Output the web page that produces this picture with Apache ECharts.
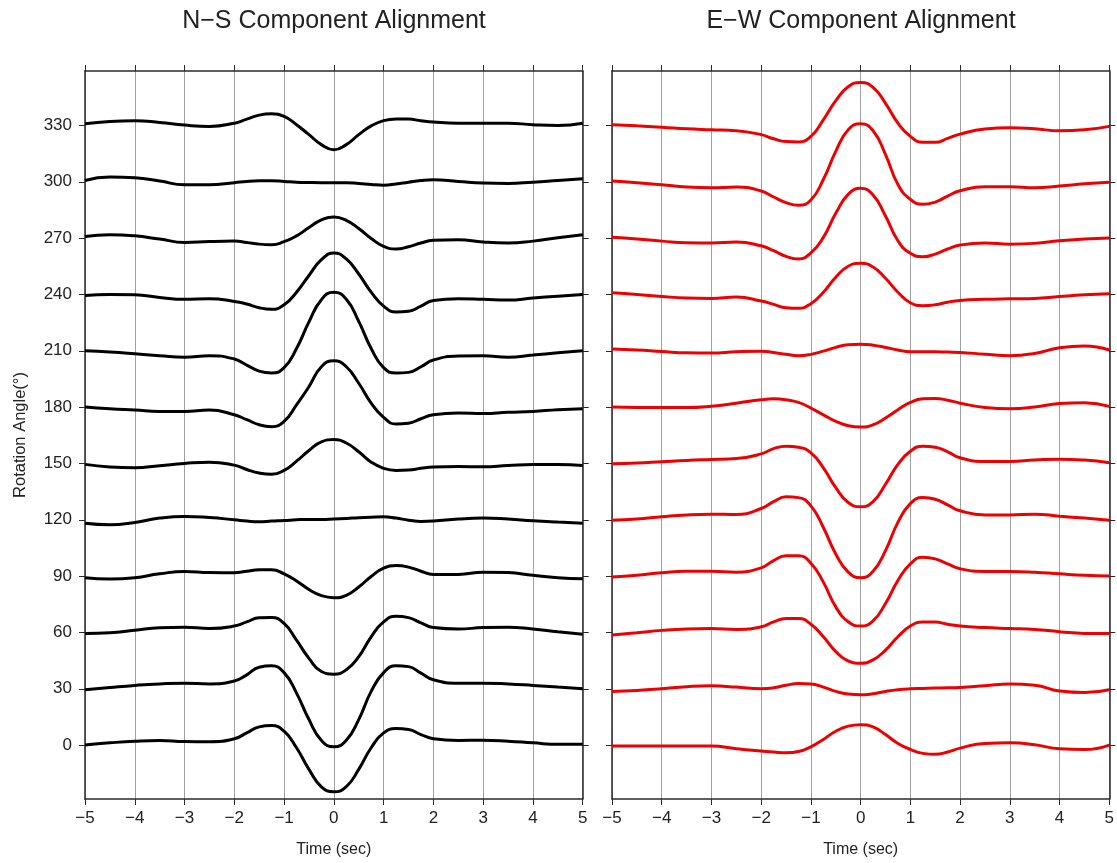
<!DOCTYPE html>
<html>
<head>
<meta charset="utf-8">
<script src="https://cdn.jsdelivr.net/npm/echarts@6/dist/echarts.min.js"></script>
<style>
html,body{margin:0;padding:0;background:#fff;}
#chart{width:1117px;height:863px;}
</style>
</head>
<body>
<div id="chart"></div>
<script>
// time samples (sec)
const times = [-5,-4.5,-4,-3.5,-3,-2.5,-2,-1.75,-1.5,-1.25,-1,-0.75,-0.5,-0.25,0,0.25,0.5,0.75,1,1.25,1.5,1.75,2,2.5,3,3.5,4,4.5,5];
const angles = [0,30,60,90,120,150,180,210,240,270,300,330];
const yTicks = [0,30,60,90,120,150,180,210,240,270,300,330];

// N-S component traces: deviation from baseline angle
const ns000 = [0,1.2,2.1,2.5,1.9,1.8,3.4,6.5,9.7,10.4,7.4,-1.4,-12.9,-22.2,-24.9,-22.1,-12.9,-1.4,6.5,8.8,8.3,5.6,3.4,2.5,2.6,2.1,1.2,0.4,0.4];
const ns030 = [-0.5,0.7,1.8,2.6,3.0,2.6,4.1,7.4,11.5,12.2,8.6,-2.3,-16.4,-27.5,-30.9,-27.4,-16.4,-1.4,8.6,12.2,11.8,8.3,4.8,3.0,3.0,2.6,1.8,0.9,0];
const ns060 = [-0.5,-0.2,1.2,2.5,2.8,2.1,3.4,5.6,7.8,7.9,4.8,-4.1,-13.8,-20.8,-22.2,-19.9,-12.9,-2.3,5.6,8.6,7.9,5.1,2.6,1.8,2.6,2.8,1.8,0.4,-0.9];
const ns090 = [-0.9,-1.6,-0.9,1.2,2.5,1.9,1.8,2.6,3.4,3.4,1.2,-2.6,-7.1,-10.4,-11.5,-10.2,-5.8,-0.2,4.2,5.6,4.8,2.6,0.9,0.9,2.1,1.9,0.4,-0.9,-1.4];
const ns120 = [-1.8,-2.6,-1.4,0.9,1.8,1.2,0,-0.7,-1.1,-0.7,-0.4,0,0.2,0.2,0.4,0.7,1.1,1.4,1.6,0.9,-0.2,-0.9,-0.7,0.4,0.9,0.4,-0.5,-1.2,-1.8];
const ns150 = [-0.5,-1.9,-2.3,-1.2,0,0.7,-0.9,-3.2,-5.1,-5.8,-3.7,1.2,6.9,11.5,12.7,10.9,6.2,0.7,-2.6,-3.7,-3.5,-2.6,-1.9,-1.6,-1.8,-1.1,-0.5,-0.5,-1.1];
const ns180 = [0,-0.9,-1.6,-2.3,-2.3,-1.6,-4.1,-6.7,-9.4,-10.4,-7.6,1.2,10.9,21.5,24.7,21.5,12.7,2.1,-5.5,-9.0,-8.6,-6.2,-4.1,-3.2,-3.4,-2.8,-2.3,-1.4,-0.9];
const ns210 = [0,-0.7,-1.6,-2.6,-3.4,-2.6,-4.4,-7.6,-10.8,-11.8,-9.0,1.2,15.4,27.2,31.2,27.4,15.7,1.2,-9.0,-11.8,-11.5,-8.5,-4.9,-2.8,-2.6,-3.4,-2.3,-1.1,0];
const ns240 = [-0.5,0,-0.2,-1.6,-2.6,-2.3,-3.7,-5.1,-7.1,-7.9,-5.5,1.2,10.1,18.5,22.1,18.9,10.9,1.2,-6.2,-9.4,-9.0,-6.2,-3.2,-2.3,-2.6,-3.0,-1.9,-0.9,0];
const ns270 = [0.9,1.8,1.2,-0.5,-2.3,-1.8,-1.6,-2.3,-3.2,-3.5,-1.9,1.2,5.6,9.7,11.3,9.5,5.1,-0.2,-4.4,-5.8,-4.6,-2.6,-1.2,-0.9,-2.1,-2.6,-1.6,0.2,1.8];
const ns300 = [0.7,2.5,2.1,0.4,-1.6,-1.6,-0.5,0.2,0.5,0.5,0.2,-0.2,-0.4,-0.5,-0.5,-0.5,-0.9,-1.4,-1.8,-1.2,-0.2,0.7,1.1,0.2,-0.7,-0.9,-0.2,0.7,1.6];
const ns330 = [0.9,2.1,2.5,1.6,0.2,-0.5,1.2,3.4,5.5,6.2,4.8,0.4,-4.9,-10.2,-12.9,-10.2,-4.9,-0.2,2.6,3.5,3.4,2.5,1.8,1.2,1.2,1.2,0.4,0,1.2];

// E-W component traces
const ew000 = [-0.5,-0.5,-0.5,-0.5,-0.5,-1.9,-3.2,-3.7,-4.1,-3.4,-0.9,3.0,7.4,10.1,10.9,9.7,5.6,0.9,-2.3,-4.4,-4.9,-3.7,-1.6,0.9,1.2,0.2,-2.0,-2.4,0];
const ew030 = [-1.4,-0.9,0,1.1,1.6,0.9,0,0.5,1.9,2.8,2.6,0.9,-1.4,-2.8,-3.2,-2.6,-1.4,-0.5,0,0.2,0.4,0.5,0.7,1.6,2.5,1.9,-1.2,-2.0,-0.5];
const ew060 = [-1.4,-0.2,1.1,1.9,2.1,1.6,3.0,5.6,7.4,7.4,4.4,-2.3,-10.2,-15.2,-16.4,-14.6,-9.4,-2.3,3.4,5.6,5.5,4.4,3.4,2.6,2.1,1.6,0.4,-0.5,-0.5];
const ew090 = [-0.5,0.5,1.8,2.6,2.6,2.1,4.4,8.3,10.8,10.9,6.9,-3.2,-16.4,-24.3,-26.6,-23.8,-14.6,-2.3,6.5,10.1,9.2,6.5,3.9,2.5,2.5,2.1,1.2,0.4,0];
const ew120 = [-0.2,0.4,1.6,2.6,3.0,2.8,6.0,9.7,12.2,11.8,7.4,-4.1,-18.2,-27.9,-30.9,-27.4,-16.4,-1.4,8.6,11.8,10.9,7.9,4.8,2.6,2.6,3.0,1.9,0.9,-0.2];
const ew150 = [-0.2,0.2,0.9,1.6,2.1,2.6,5.1,7.9,9.2,8.6,5.6,-2.3,-12.9,-20.8,-23.1,-20.3,-11.1,-0.5,6.5,9.2,8.6,6.2,3.0,1.1,1.1,1.8,2.3,1.8,0.4];
const ew180 = [0,-0.2,-0.2,-0.2,0.5,2.1,3.9,4.4,3.9,2.5,-0.5,-4.1,-7.6,-9.9,-10.6,-9.4,-5.8,-1.4,2.5,4.4,4.6,3.7,2.1,-0.2,-0.9,0,1.9,2.3,0.4];
const ew210 = [0.9,0.4,-0.4,-1.1,-1.2,-0.5,-0.2,-0.9,-1.9,-2.6,-1.9,-0.2,1.8,3.2,3.5,3.0,1.8,0.4,-0.5,-0.5,-0.5,-0.7,-0.9,-1.8,-2.6,-1.4,1.6,2.5,0.4];
const ew240 = [0.9,0,-1.1,-1.9,-2.1,-1.4,-3.5,-5.3,-7.1,-7.4,-4.9,1.2,9.2,15.0,16.6,14.6,8.6,1.2,-4.4,-6.0,-5.5,-4.1,-3.2,-2.6,-2.3,-2.1,-1.1,-0.2,0.4];
const ew270 = [0.4,-0.5,-1.6,-2.5,-2.6,-2.1,-4.1,-6.7,-9.7,-11.1,-7.9,0.4,13.2,23.3,26.5,22.9,11.8,-1.4,-8.1,-9.9,-8.5,-5.8,-3.7,-2.6,-3.2,-2.8,-1.4,-0.5,0];
const ew300 = [0.4,-0.5,-1.6,-2.8,-3.2,-2.8,-4.9,-8.1,-11.1,-12.5,-9.7,1.2,16.2,27.7,30.9,27.2,14.5,-1.4,-9.4,-12.0,-10.8,-7.6,-4.8,-2.6,-2.6,-3.2,-2.3,-1.1,-0.2];
const ew330 = [0.4,-0.2,-0.9,-1.8,-2.3,-2.8,-4.9,-7.1,-8.6,-8.8,-5.8,3.0,13.2,20.6,22.9,20.3,11.8,1.2,-5.8,-9.0,-9.0,-6.9,-4.6,-1.9,-1.2,-1.8,-2.8,-2.3,-0.5];

const nsTraces = [ns000,ns030,ns060,ns090,ns120,ns150,ns180,ns210,ns240,ns270,ns300,ns330];
const ewTraces = [ew000,ew030,ew060,ew090,ew120,ew150,ew180,ew210,ew240,ew270,ew300,ew330];

const Y_MIN = -28.7, Y_MAX = 359;
const FONT = 'Liberation Sans, Arial, Helvetica, sans-serif';
const AX = '#2a2a2a';

const minusFmt = v => (v < 0 ? '\u2212' + Math.abs(v) : String(v));

function xAx(grid, pos, labels) {
  return {
    type: 'value', gridIndex: grid, position: pos, min: -5, max: 5, interval: 1,
    axisLine: { show: true, onZero: false, lineStyle: { color: AX, width: 1.5 } },
    axisTick: { show: true, inside: false, length: 6, lineStyle: { color: AX, width: 1 } },
    axisLabel: { show: labels, formatter: minusFmt, fontSize: 17, color: '#222', fontFamily: FONT, margin: 11 },
    splitLine: { show: pos === 'bottom', lineStyle: { color: '#a0a0a0', width: 1 } },
    name: labels ? 'Time (sec)' : '', nameLocation: 'middle', nameGap: 43,
    nameTextStyle: { fontSize: 16, color: '#222', fontFamily: FONT }
  };
}
function yAx(grid, pos, labels) {
  return {
    type: 'value', gridIndex: grid, position: pos, min: Y_MIN, max: Y_MAX,
    axisLine: { show: true, onZero: false, lineStyle: { color: AX, width: 1.5 } },
    axisTick: { show: true, inside: false, length: 6, customValues: yTicks, lineStyle: { color: AX, width: 1 } },
    axisLabel: { show: labels, customValues: yTicks, fontSize: 17, color: '#222', fontFamily: FONT, margin: 13 },
    splitLine: { show: false },
    name: labels ? 'Rotation Angle(\u00B0)' : '', nameLocation: 'middle', nameGap: 56,
    nameTextStyle: { fontSize: 16.5, color: '#222', fontFamily: FONT }
  };
}

const series = [];
angles.forEach((a, k) => {
  series.push({
    type: 'line', xAxisIndex: 0, yAxisIndex: 0, smooth: 0.5, symbol: 'none',
    lineStyle: { color: '#000', width: 3 },
    data: times.map((t, i) => [t, a + nsTraces[k][i]])
  });
  series.push({
    type: 'line', xAxisIndex: 2, yAxisIndex: 2, smooth: 0.5, symbol: 'none',
    lineStyle: { color: '#ee0000', width: 3 },
    data: times.map((t, i) => [t, a + ewTraces[k][i]])
  });
});

const chart = echarts.init(document.getElementById('chart'), null, { renderer: 'canvas' });
chart.setOption({
  animation: false,
  backgroundColor: '#fff',
  grid: [
    { left: 85, top: 71, width: 497.7, height: 732, containLabel: false },
    { left: 612, top: 71, width: 498, height: 732, containLabel: false }
  ],
  xAxis: [xAx(0, 'bottom', true), xAx(0, 'top', false), xAx(1, 'bottom', true), xAx(1, 'top', false)],
  yAxis: [yAx(0, 'left', true), yAx(0, 'right', false), yAx(1, 'left', false), yAx(1, 'right', false)],
  graphic: [
    { type: 'text', x: 334, y: 21, style: { text: 'N\u2212S Component Alignment', textAlign: 'center', textVerticalAlign: 'middle', fontSize: 25, fill: '#222', fontFamily: FONT } },
    { type: 'text', x: 861, y: 21, style: { text: 'E\u2212W Component Alignment', textAlign: 'center', textVerticalAlign: 'middle', fontSize: 25, fill: '#222', fontFamily: FONT } }
  ],
  series: series
});
</script>
</body>
</html>
